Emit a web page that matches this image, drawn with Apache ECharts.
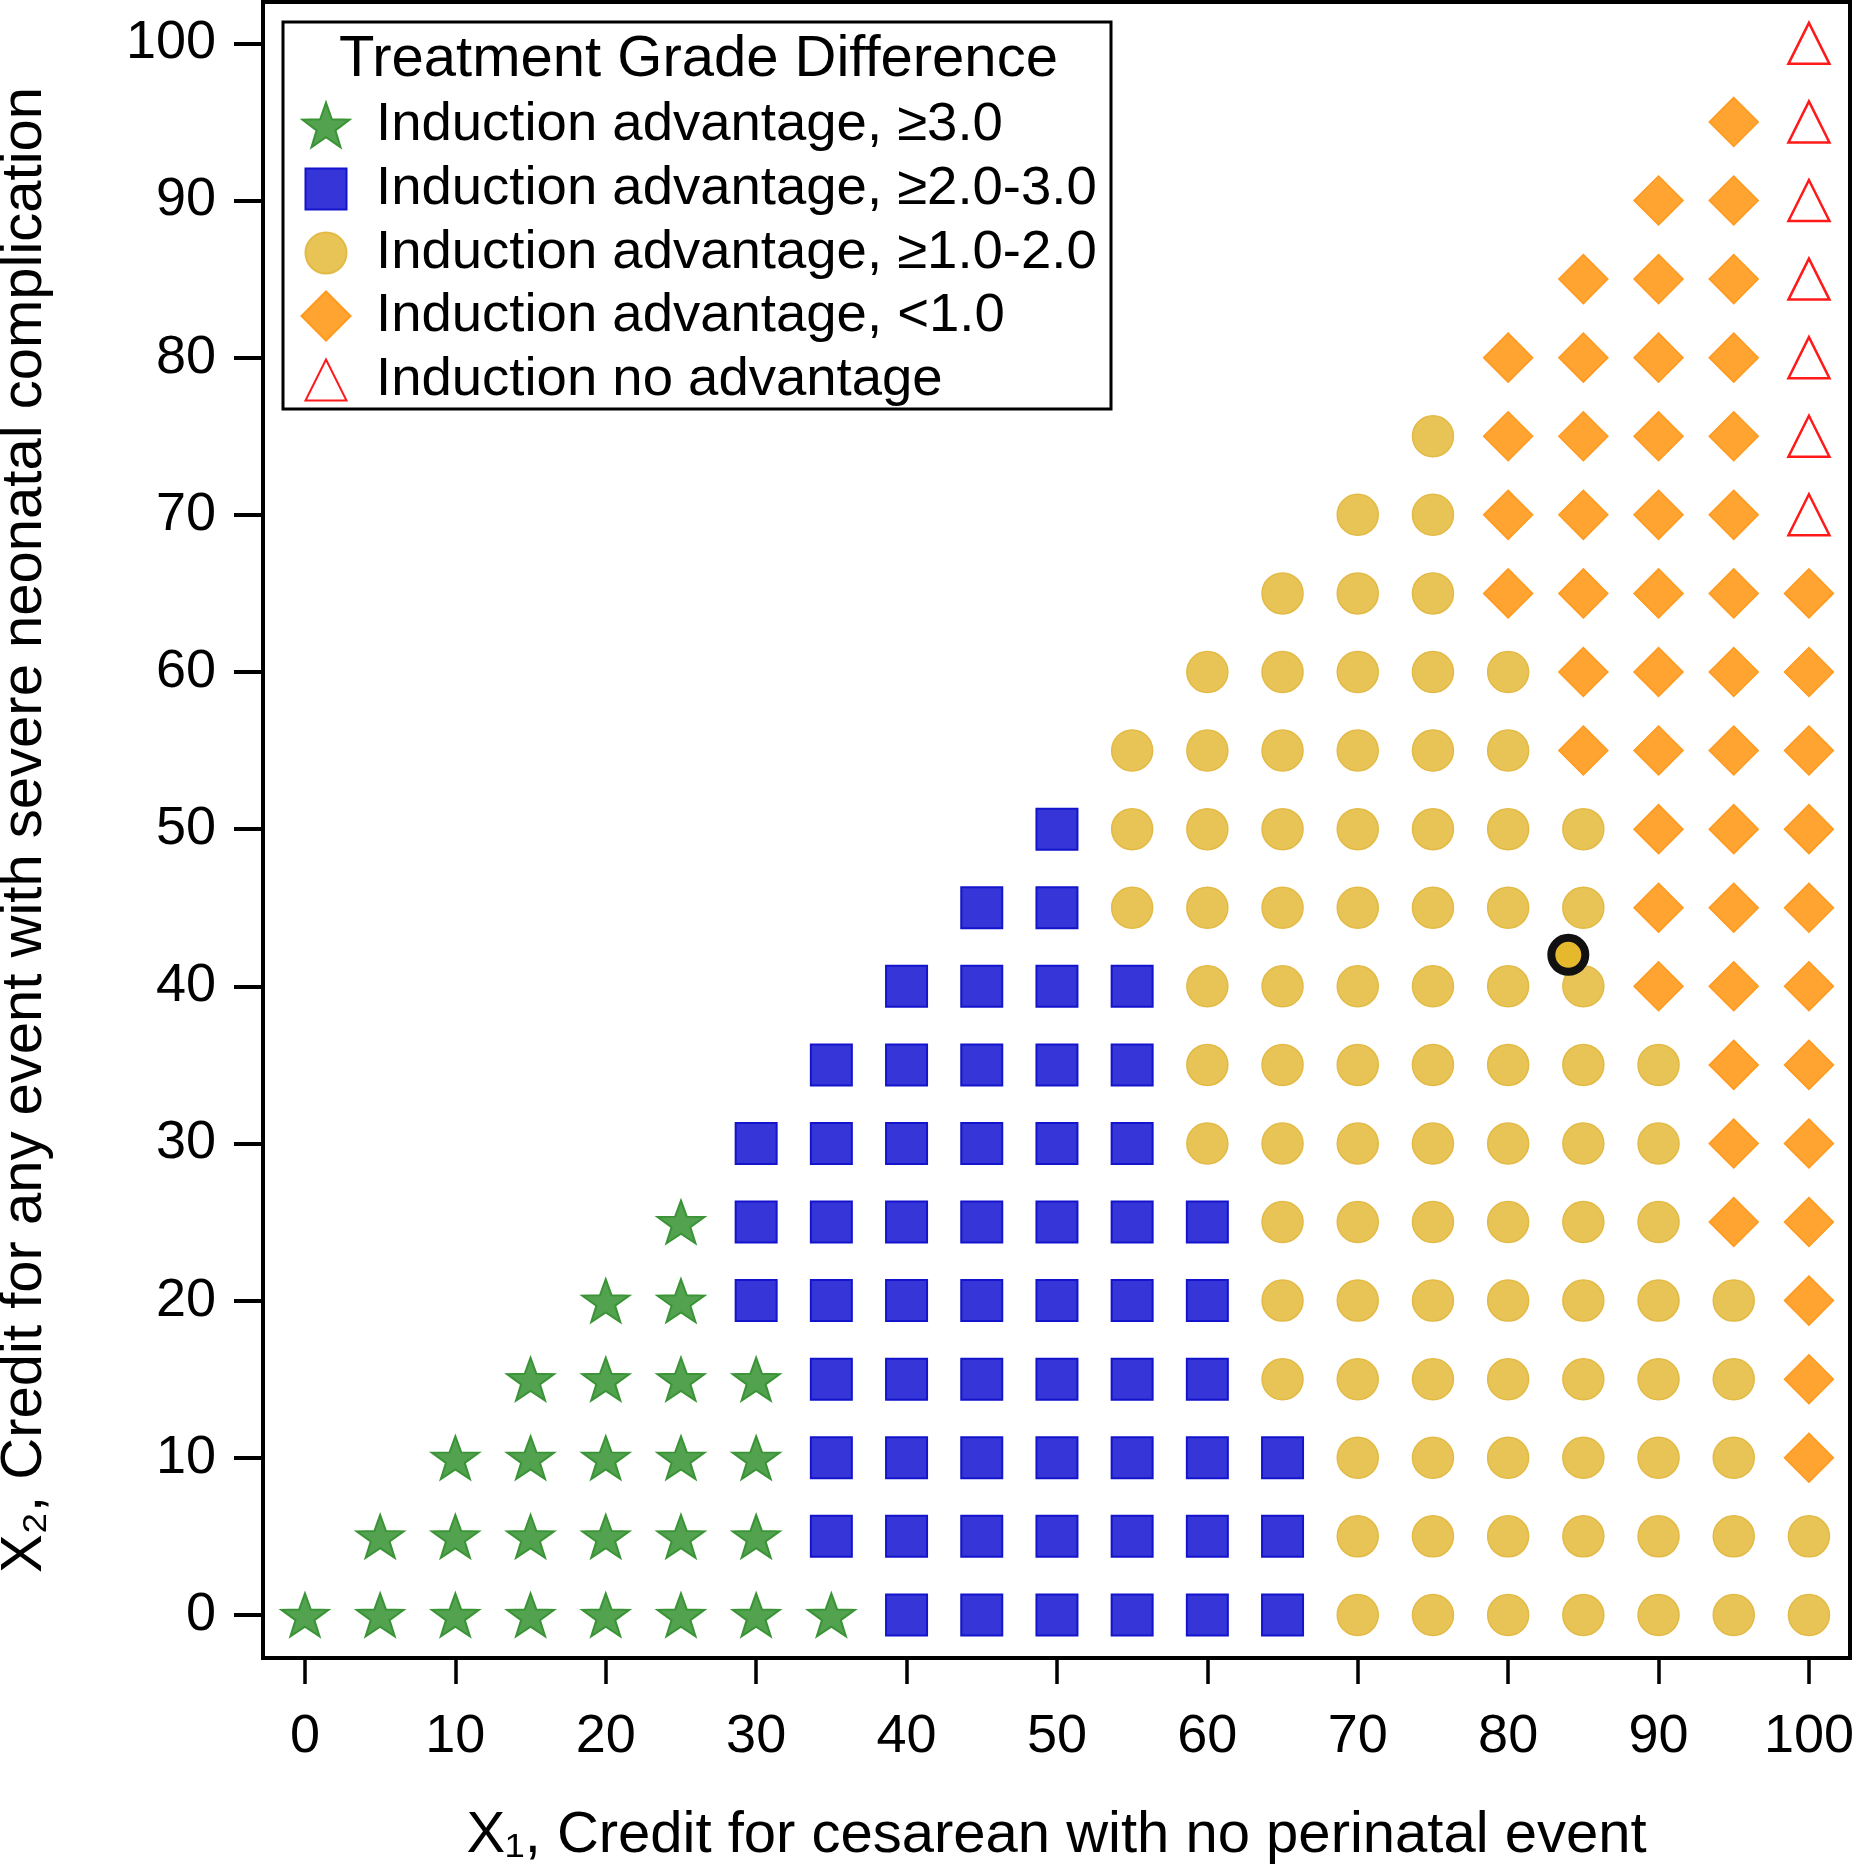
<!DOCTYPE html>
<html>
<head>
<meta charset="utf-8">
<script src="https://cdn.jsdelivr.net/npm/echarts@6/dist/echarts.min.js"></script>
<style>
  html, body { margin: 0; padding: 0; background: #fff; }
  #chart { width: 1854px; height: 1865px; }
</style>
</head>
<body>
<div id="chart"></div>
<script>
// ---------------- data ----------------
const xValues = [0, 5, 10, 15, 20, 25, 30, 35, 40, 45, 50, 55, 60, 65, 70, 75, 80, 85, 90, 95, 100];
const yValues = [0, 5, 10, 15, 20, 25, 30, 35, 40, 45, 50, 55, 60, 65, 70, 75, 80, 85, 90, 95, 100];
// one string per row (y = 0 ... 100), one character per x column
// S = star, B = blue square, C = circle, D = diamond, T = triangle, . = no point
const gradeRows = [
  "SSSSSSSSBBBBBBCCCCCCC",
  ".SSSSSSBBBBBBBCCCCCCC",
  "..SSSSSBBBBBBBCCCCCCD",
  "...SSSSBBBBBBCCCCCCCD",
  "....SSBBBBBBBCCCCCCCD",
  ".....SBBBBBBBCCCCCCDD",
  "......BBBBBBCCCCCCCDD",
  ".......BBBBBCCCCCCCDD",
  "........BBBBCCCCCCDDD",
  ".........BBCCCCCCCDDD",
  "..........BCCCCCCCDDD",
  "...........CCCCCCDDDD",
  "............CCCCCDDDD",
  ".............CCCDDDDD",
  "..............CCDDDDT",
  "...............CDDDDT",
  "................DDDDT",
  ".................DDDT",
  "..................DDT",
  "...................DT",
  "....................T"
];
const gradeCodes = ["S", "B", "C", "D", "T"];
const gradeNames = [
  "Induction advantage, \u22653.0",
  "Induction advantage, \u22652.0-3.0",
  "Induction advantage, \u22651.0-2.0",
  "Induction advantage, <1.0",
  "Induction no advantage"
];
const highlightPoint = [[84, 42]];
const tickValues = [0, 10, 20, 30, 40, 50, 60, 70, 80, 90, 100];
const legendTitle = "Treatment Grade Difference";
const xTitle = "X\u2081, Credit for cesarean with no perinatal event";
const yTitle = "X\u2082, Credit for any event with severe neonatal complication";

// ---------------- build series data ----------------
function pointsFor(code) {
  const pts = [];
  gradeRows.forEach((row, ri) => {
    for (let ci = 0; ci < row.length; ci++) {
      if (row[ci] === code) pts.push([xValues[ci], yValues[ri]]);
    }
  });
  return pts;
}

// star shape (symbol geometry)
function starPath() {
  const R = 50, r = 20;
  let d = "";
  for (let k = 0; k < 10; k++) {
    const a = (-90 + k * 36) * Math.PI / 180;
    const rad = k % 2 === 0 ? R : r;
    d += (k === 0 ? "M" : "L") + (rad * Math.cos(a)).toFixed(2) + " " + (rad * Math.sin(a)).toFixed(2) + " ";
  }
  return "path://" + d + "Z";
}

const FONT = "'Liberation Sans', Arial, Helvetica, sans-serif";

const styles = {
  S: { symbol: starPath(), size: [47, 45], fill: "#52A24F", stroke: "#3A9436", bw: 2 },
  B: { symbol: "rect", size: 41, fill: "#3535D8", stroke: "#1414CC", bw: 2 },
  C: { symbol: "circle", size: 41, fill: "#E8C457", stroke: "#E2BA45", bw: 1.5 },
  D: { symbol: "diamond", size: 49, fill: "#FFA331", stroke: "#FF9A1E", bw: 1.5 },
  T: { symbol: "triangle", size: 41, fill: "#FFFFFF", stroke: "#FF1A1A", bw: 2.5 }
};

const series = gradeCodes.map((code, i) => {
  const st = styles[code];
  return {
    name: gradeNames[i],
    type: "scatter",
    symbol: st.symbol,
    symbolSize: st.size,
    symbolKeepAspect: true,
    itemStyle: { color: st.fill, borderColor: st.stroke, borderWidth: st.bw, opacity: 1 },
    emphasis: { disabled: true },
    data: pointsFor(code)
  };
});
series.push({
  name: "highlight",
  type: "scatter",
  symbol: "circle",
  symbolSize: 34,
  itemStyle: { color: "#E6B82E", borderColor: "#111111", borderWidth: 8, opacity: 1 },
  emphasis: { disabled: true },
  z: 5,
  data: highlightPoint
});

// ---------------- legends (one per row so each icon keeps its size) ----------------
const legendCenters = [125, 189, 253, 316, 380];
const legends = gradeCodes.map((code, i) => {
  const st = styles[code];
  const w = Array.isArray(st.size) ? st.size[0] : st.size;
  const h = Array.isArray(st.size) ? st.size[1] : st.size;
  return {
    data: [gradeNames[i]],
    orient: "horizontal",
    left: 325 - w / 2,
    top: legendCenters[i] - 28,
    padding: 0,
    itemWidth: w,
    itemHeight: h,
    selectedMode: false,
    textStyle: {
      fontFamily: FONT, fontSize: 54.5, color: "#000", lineHeight: 56,
      padding: [0, 0, 0, 45 - w / 2]
    }
  };
});

const chart = echarts.init(document.getElementById("chart"), null, { renderer: "canvas" });
chart.setOption({
  animation: false,
  backgroundColor: "#ffffff",
  title: {
    text: legendTitle,
    left: 339,
    top: 31,
    padding: 0,
    textStyle: { fontFamily: FONT, fontSize: 58, fontWeight: "normal", color: "#000", lineHeight: 58 }
  },
  legend: legends,
  graphic: [{
    type: "rect",
    shape: { x: 283, y: 22, width: 828, height: 387 },
    style: { fill: null, stroke: "#000", lineWidth: 3 },
    z: 10
  }],
  grid: {
    left: 263, right: 4, top: 2, bottom: 207,
    show: true, borderColor: "#000", borderWidth: 4,
    containLabel: false,
    outerBoundsMode: "none"
  },
  xAxis: {
    type: "value",
    min: -2.79, max: 102.73,
    splitLine: { show: false },
    axisLine: { show: false, onZero: false },
    axisTick: { show: true, inside: false, length: 26, customValues: tickValues, lineStyle: { color: "#000", width: 3.5 } },
    axisLabel: { customValues: tickValues, margin: 52, fontFamily: FONT, fontSize: 54, color: "#000" },
    name: xTitle,
    nameLocation: "middle",
    nameGap: 149,
    nameTextStyle: { fontFamily: FONT, fontSize: 58, color: "#000" }
  },
  yAxis: {
    type: "value",
    min: -2.74, max: 102.63,
    splitLine: { show: false },
    axisLine: { show: false, onZero: false },
    axisTick: { show: true, inside: false, length: 29, customValues: tickValues, lineStyle: { color: "#000", width: 4 } },
    axisLabel: { customValues: tickValues, margin: 47, padding: [5, 0, 0, 0], fontFamily: FONT, fontSize: 54, color: "#000" },
    name: yTitle,
    nameLocation: "middle",
    nameGap: 209,
    nameTextStyle: { fontFamily: FONT, fontSize: 58, color: "#000" }
  },
  series: series
});
</script>
</body>
</html>
